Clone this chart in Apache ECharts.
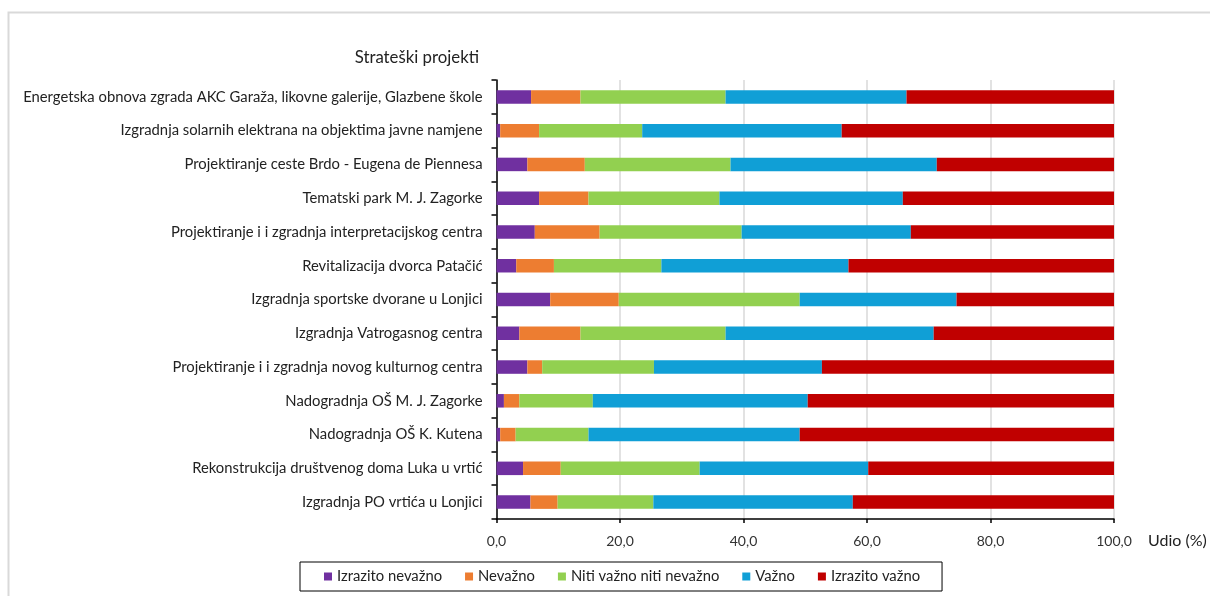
<!DOCTYPE html>
<html>
<head>
<meta charset="utf-8">
<script src="https://cdn.jsdelivr.net/npm/echarts@6/dist/echarts.min.js"></script>
<style>
html,body{margin:0;padding:0;background:#fff;}
#c{width:1210px;height:596px;}
</style>
</head>
<body>
<div id="c"></div>
<script>
const categories = [
  "Energetska obnova zgrada AKC Garaža, likovne galerije, Glazbene škole",
  "Izgradnja solarnih elektrana na objektima javne namjene",
  "Projektiranje ceste Brdo - Eugena de Piennesa",
  "Tematski park M. J. Zagorke",
  "Projektiranje i i zgradnja interpretacijskog centra",
  "Revitalizacija dvorca Patačić",
  "Izgradnja sportske dvorane u Lonjici",
  "Izgradnja Vatrogasnog centra",
  "Projektiranje i i zgradnja novog kulturnog centra",
  "Nadogradnja OŠ M. J. Zagorke",
  "Nadogradnja OŠ K. Kutena",
  "Rekonstrukcija društvenog doma Luka u vrtić",
  "Izgradnja PO vrtića u Lonjici"
];
const seriesNames = ["Izrazito nevažno", "Nevažno", "Niti važno niti nevažno", "Važno", "Izrazito važno"];
const izrazitoNevazno = [5.6, 0.6, 5.0, 6.9, 6.2, 3.2, 8.7, 3.7, 5.0, 1.2, 0.6, 4.3, 5.5];
const nevazno         = [8.0, 6.3, 9.3, 8.0, 10.5, 6.1, 11.1, 9.9, 2.4, 2.5, 2.5, 6.1, 4.4];
const nitiNiti        = [23.5, 16.7, 23.6, 21.2, 23.0, 17.4, 29.3, 23.5, 18.1, 11.9, 11.8, 22.5, 15.5];
const vazno           = [29.3, 32.3, 33.4, 29.7, 27.4, 30.3, 25.4, 33.7, 27.2, 34.8, 34.2, 27.3, 32.3];
const izrazitoVazno   = [33.6, 44.1, 28.7, 34.2, 32.9, 43.0, 25.5, 29.2, 47.3, 49.6, 50.9, 39.8, 42.3];
const xTicks = [0, 20, 40, 60, 80, 100];
const colors = ["#7030A0", "#ED7D31", "#92D050", "#109FD6", "#C00000"];

const seriesData = [izrazitoNevazno, nevazno, nitiNiti, vazno, izrazitoVazno];
const FONT = "Lato";

const chart = echarts.init(document.getElementById('c'), null, {renderer: 'canvas'});
chart.setOption({
  animation: false,
  color: colors,
  textStyle: {fontFamily: FONT},
  title: {
    text: "Strateški projekti",
    right: 1210 - 484, top: 44,
    textStyle: {fontFamily: FONT, fontSize: 16.8, fontWeight: 'normal', color: '#222'}
  },
  graphic: [{
    type: 'rect', silent: true, z: -1,
    shape: {x: 8.5, y: 12.5, width: 1400, height: 800},
    style: {fill: 'none', stroke: '#d9d9d9', lineWidth: 2}
  }],
  grid: {left: 496.5, right: 96, top: 80, bottom: 77, containLabel: false},
  xAxis: {
    type: 'value', min: 0, max: 100, interval: 20,
    name: "Udio (%)", nameLocation: 'end', nameGap: 34,
    nameTextStyle: {fontFamily: FONT, fontSize: 16, color: '#222', verticalAlign: 'top', padding: [14, 0, 0, 0]},
    axisLine: {show: true, lineStyle: {color: '#000', width: 1.5}},
    axisTick: {show: true, length: 4, lineStyle: {color: '#000', width: 1.5}},
    axisLabel: {
      fontFamily: FONT, fontSize: 14, color: '#333', margin: 15,
      formatter: v => xTicks.includes(v) ? v.toFixed(1).replace('.', ',') : ''
    },
    splitLine: {show: true, lineStyle: {color: '#d9d9d9', width: 1.5}}
  },
  yAxis: {
    type: 'category', data: categories, inverse: true,
    axisLine: {show: true, lineStyle: {color: '#000', width: 1.5}},
    axisTick: {show: true, length: 5, lineStyle: {color: '#000', width: 1.5}},
    axisLabel: {fontFamily: FONT, fontSize: 14.8, color: '#222', margin: 14}
  },
  legend: {
    data: seriesNames,
    left: 300, top: 562,
    padding: [7, 22, 7, 24],
    itemWidth: 8, itemHeight: 8, itemGap: 23,
    icon: 'rect',
    borderColor: '#000', borderWidth: 1,
    textStyle: {fontFamily: FONT, fontSize: 14.8, color: '#222'}
  },
  series: seriesNames.map((n, i) => ({
    name: n, type: 'bar', stack: 'total',
    barWidth: '40%',
    data: seriesData[i],
    itemStyle: {color: colors[i]}
  }))
});
</script>
</body>
</html>
